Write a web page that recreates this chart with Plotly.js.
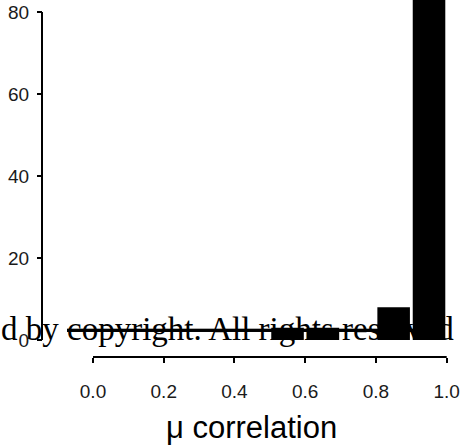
<!DOCTYPE html>
<html>
<head>
<meta charset="utf-8">
<script src="https://cdn.plot.ly/plotly-3.0.1.min.js"></script>
<style>html,body{margin:0;padding:0;background:#fff;}#chart{width:465px;height:445px;}</style>
</head>
<body>
<div id="chart"></div>
<script>
// Histogram bins (left edges) and counts
const binStarts = [0.5, 0.6, 0.7, 0.8, 0.9];
const counts = [3, 3, 0, 8, 92];
const xTickVals = [0.0, 0.2, 0.4, 0.6, 0.8, 1.0];
const xTickText = ["0.0", "0.2", "0.4", "0.6", "0.8", "1.0"];
const yTickVals = [0, 20, 40, 60, 80];
const yTickText = ["0", "20", "40", "60", "80"];
const xTitle = "μ correlation";
const watermark = "d by <s>copyright. All rights reserve</s>d";

const W = 465, H = 445;
const xDom = [93 / W, 446.7 / W];
const yDom = [(H - 340) / H, 1];
const yMax = 340 / 4.1;
const yAxisPos = 42 / W;
const xAxisPos = (H - 357) / H;
const yLineTop = yDom[0] + (80 / yMax) * (yDom[1] - yDom[0]);

const trace = {
  type: 'bar',
  x: binStarts,
  y: counts,
  width: 0.092,
  offset: 0.004,
  marker: {color: '#000000', line: {width: 0}},
  hoverinfo: 'skip',
  cliponaxis: true
};

const tickFont = {family: 'Liberation Sans, Arial, sans-serif', size: 19, color: '#1a1a1a'};

const layout = {
  width: W, height: H,
  margin: {l: 0, r: 0, t: 0, b: 0, pad: 0},
  paper_bgcolor: '#ffffff',
  plot_bgcolor: '#ffffff',
  showlegend: false,
  xaxis: {
    domain: xDom, range: [0, 1], anchor: 'free', position: xAxisPos,
    showline: false, showgrid: false, zeroline: false,
    tickmode: 'array', tickvals: xTickVals, ticktext: xTickText,
    ticks: 'outside', ticklen: 5, tickwidth: 2, tickcolor: '#000',
    tickfont: tickFont, ticklabelstandoff: 12
  },
  yaxis: {
    domain: yDom, range: [0, yMax], anchor: 'free', position: yAxisPos,
    showline: false, showgrid: false, zeroline: false,
    tickmode: 'array', tickvals: yTickVals, ticktext: yTickText,
    ticks: 'outside', ticklen: 5, tickwidth: 2, tickcolor: '#000',
    tickfont: tickFont, ticklabelstandoff: 4
  },
  shapes: [
    {type: 'line', xref: 'paper', yref: 'paper', x0: yAxisPos, x1: yAxisPos, y0: yDom[0], y1: yLineTop,
     line: {color: '#000', width: 2}},
    {type: 'line', xref: 'paper', yref: 'paper', x0: xDom[0], x1: xDom[1], y0: xAxisPos, y1: xAxisPos,
     line: {color: '#000', width: 2}}
  ],
  annotations: [
    {text: xTitle, xref: 'paper', yref: 'paper', x: 251.5 / W, y: (H - 427) / H,
     xanchor: 'center', yanchor: 'middle', showarrow: false,
     font: {family: 'Liberation Sans, Arial, sans-serif', size: 31, color: '#000'}},
    {text: watermark, xref: 'paper', yref: 'paper', x: 456 / W, y: (H - 329) / H,
     xanchor: 'right', yanchor: 'middle', showarrow: false,
     font: {family: 'Liberation Serif, Times New Roman, serif', size: 33, color: '#000'}}
  ]
};

Plotly.newPlot('chart', [trace], layout, {staticPlot: true, displayModeBar: false});
</script>
</body>
</html>
